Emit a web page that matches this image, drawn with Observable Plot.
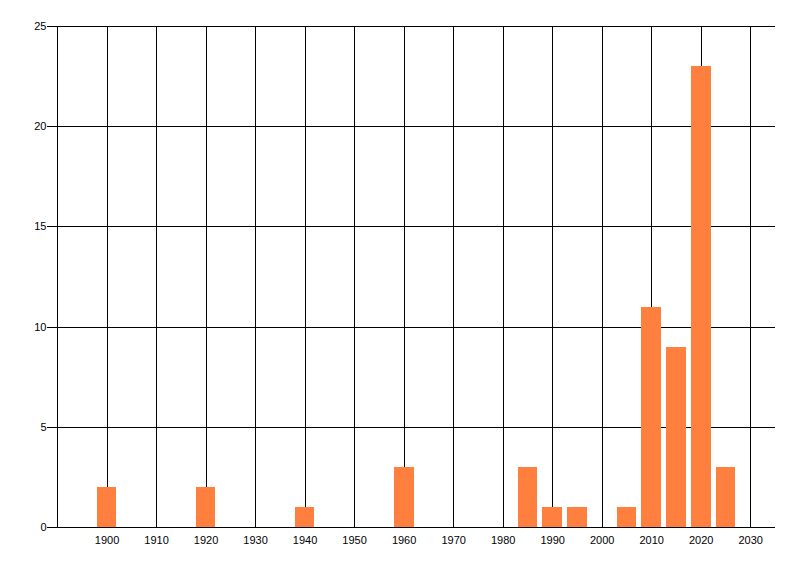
<!DOCTYPE html>
<html>
<head>
<meta charset="utf-8">
<script src="https://cdn.jsdelivr.net/npm/d3@7"></script>
<script src="https://cdn.jsdelivr.net/npm/@observablehq/plot@0.6"></script>
<style>
  html, body { margin: 0; padding: 0; background: #fff; }
  #chart { width: 800px; height: 576px; }
</style>
</head>
<body>
<div id="chart"></div>
<script>
const years  = [1900, 1920, 1940, 1960, 1985, 1990, 1995, 2005, 2010, 2015, 2020, 2025];
const counts = [2, 2, 1, 3, 3, 1, 1, 1, 11, 9, 23, 3];
const xTicks = [1900, 1910, 1920, 1930, 1940, 1950, 1960, 1970, 1980, 1990, 2000, 2010, 2020, 2030];
const yTicks = [0, 5, 10, 15, 20, 25];
const xDomain = [1890, 2035];
const yDomain = [0, 25];
const binHalf = 2;

const data = years.map((y, i) => ({year: y, count: counts[i]}));

const chart = Plot.plot({
  width: 800,
  height: 576,
  marginLeft: 57,
  marginRight: 25,
  marginTop: 26,
  marginBottom: 49,
  style: {fontFamily: "'Liberation Sans', Arial, sans-serif", fontSize: "11px", background: "#fff", color: "#000"},
  x: {domain: xDomain, label: null},
  y: {domain: yDomain, label: null},
  marks: [
    Plot.ruleY(yTicks, {stroke: "#000", strokeWidth: 1, shapeRendering: "crispEdges"}),
    Plot.ruleX(xTicks, {y1: yDomain[0], y2: yDomain[1], stroke: "#000", strokeWidth: 1, shapeRendering: "crispEdges"}),
    Plot.ruleX([xDomain[0]], {y1: yDomain[0], y2: yDomain[1], stroke: "#000", strokeWidth: 1, shapeRendering: "crispEdges"}),
    Plot.rectY(data, {x1: d => d.year - binHalf, x2: d => d.year + binHalf, y: "count", fill: "#FF7F3F", inset: 0, shapeRendering: "crispEdges"}),
    Plot.axisY({ticks: yTicks, tickSize: 10, tickPadding: 1, stroke: "#000", fill: "#000", fontSize: 11, label: null, shapeRendering: "crispEdges"}),
    Plot.axisX({ticks: xTicks, tickFormat: d => String(d), tickSize: 0, tickPadding: 9, fill: "#000", fontSize: 11, label: null})
  ]
});
document.getElementById("chart").appendChild(chart);
</script>
</body>
</html>
